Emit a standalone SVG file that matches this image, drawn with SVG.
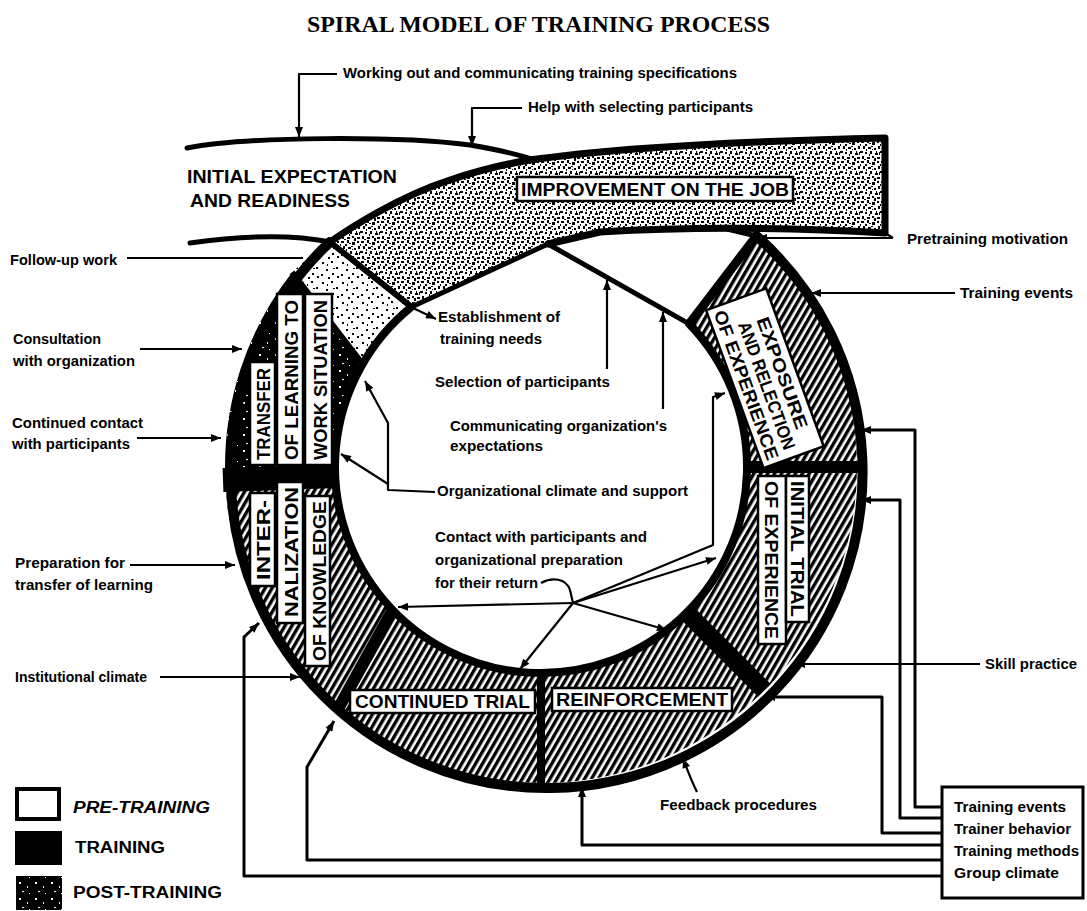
<svg xmlns="http://www.w3.org/2000/svg" width="1087" height="911" viewBox="0 0 1087 911">
<defs>
<style>
text{font-family:"Liberation Sans",Arial,sans-serif;font-weight:bold;fill:#000}
.title{font-family:"Liberation Serif","Times New Roman",serif;font-size:23px}
.note{font-size:14px}
.stage{font-size:18px}
.leg{font-size:16px}
.tag{fill:#fff;stroke:#000;stroke-width:2.5}
.lead{fill:none;stroke:#000;stroke-width:2.2;stroke-linejoin:round}
.feed{fill:none;stroke:#000;stroke-width:3;stroke-linejoin:round}
.rim{fill:none;stroke:#000;stroke-linejoin:round;stroke-linecap:round}
</style>
<!-- diagonal hatching for the training stages -->
<pattern id="hatch" width="6" height="6" patternUnits="userSpaceOnUse" patternTransform="rotate(30)">
  <rect width="6" height="6" fill="#fff"/><rect width="3.4" height="6" fill="#000"/>
</pattern>
<!-- dense stipple for the rising band -->
<pattern id="stipple" width="20" height="20" patternUnits="userSpaceOnUse">
  <rect width="20" height="20" fill="#fff"/>
  <g fill="#000">
    <rect x="1" y="1" width="3" height="2"/><rect x="7" y="0" width="2" height="3"/>
    <rect x="12" y="2" width="3" height="3"/><rect x="17" y="1" width="2" height="2"/>
    <rect x="3" y="6" width="2" height="3"/><rect x="8" y="7" width="3" height="2"/>
    <rect x="14" y="8" width="2" height="2"/><rect x="18" y="6" width="2" height="3"/>
    <rect x="0" y="11" width="3" height="2"/><rect x="5" y="12" width="2" height="2"/>
    <rect x="10" y="11" width="2" height="3"/><rect x="15" y="13" width="3" height="2"/>
    <rect x="2" y="16" width="2" height="3"/><rect x="7" y="17" width="3" height="2"/>
    <rect x="12" y="16" width="2" height="2"/><rect x="17" y="17" width="3" height="2"/>
    <rect x="5" y="4" width="2" height="2"/><rect x="11" y="6" width="2" height="1"/>
    <rect x="16" y="11" width="1" height="2"/><rect x="9" y="14" width="1" height="2"/>
    <rect x="0" y="4" width="1" height="2"/><rect x="14" y="0" width="2" height="1"/>
    <rect x="6" y="9" width="1" height="2"/><rect x="12" y="9" width="1" height="1"/>
    <rect x="19" y="12" width="1" height="3"/><rect x="4" y="19" width="2" height="1"/>
    <rect x="14" y="18" width="2" height="2"/><rect x="9" y="3" width="2" height="1"/>
  </g>
</pattern>
<!-- lighter stipple for the follow-up segment -->
<pattern id="stippleLight" width="20" height="20" patternUnits="userSpaceOnUse">
  <rect width="20" height="20" fill="#fff"/>
  <g fill="#000">
    <rect x="2" y="2" width="2" height="2"/><rect x="11" y="1" width="2" height="2"/>
    <rect x="16" y="7" width="2" height="2"/><rect x="6" y="9" width="2" height="2"/>
    <rect x="1" y="14" width="2" height="2"/><rect x="12" y="13" width="2" height="2"/>
    <rect x="8" y="17" width="2" height="2"/><rect x="17" y="16" width="2" height="2"/>
    <rect x="7" y="4" width="1" height="2"/><rect x="13" y="8" width="2" height="1"/>
  </g>
</pattern>
<!-- black with white specks for the transfer stage -->
<pattern id="speckle" width="16" height="16" patternUnits="userSpaceOnUse">
  <rect width="16" height="16" fill="#000"/>
  <g fill="#fff">
    <rect x="3" y="2" width="2" height="2"/><rect x="11" y="6" width="1" height="2"/>
    <rect x="6" y="11" width="2" height="1"/><rect x="13" y="13" width="1" height="1"/>
  </g>
</pattern>
<marker id="arr" viewBox="0 0 10 8" refX="10" refY="4" markerWidth="11" markerHeight="8" markerUnits="userSpaceOnUse" orient="auto">
  <path d="M0,0 L10,4 L0,8 Z" fill="#000"/>
</marker>
</defs>

<rect width="1087" height="911" fill="#fff"/>

<g id="title">
  <text class="title" x="307" y="32" textLength="463" lengthAdjust="spacingAndGlyphs">SPIRAL MODEL OF TRAINING PROCESS</text>
</g>

<!-- ring body: stage sectors, separators and rims -->
<g id="ring-body">
  <path id="sector-exposure" fill="url(#hatch)" d="M756.5,235.9 A316,316 0 0 1 857,467 L747,467 A206,206 0 0 0 689.2,323.9 Z"/>
  <path id="sector-initial-trial" fill="url(#hatch)" d="M857,467 A316,316 0 0 1 764.4,690.4 L686.7,612.7 A206,206 0 0 0 747,467 Z"/>
  <path id="sector-reinforcement" fill="url(#hatch)" d="M764.4,690.4 A316,316 0 0 1 541,783 L541,673 A206,206 0 0 0 686.7,612.7 Z"/>
  <path id="sector-continued-trial" fill="url(#hatch)" d="M541,783 A316,316 0 0 1 337.9,709.1 L392.8,610.1 A206,206 0 0 0 541,673 Z"/>
  <path id="sector-internalization" fill="url(#hatch)" d="M337.9,709.1 A316,316 0 0 1 225.2,478 L335.1,474.2 A206,206 0 0 0 392.8,610.1 Z"/>
  <path id="sector-transfer" fill="url(#speckle)" d="M225.2,478 A316,316 0 0 1 292,272.4 L362.6,364 A206,206 0 0 0 335.1,474.2 Z"/>
  <path id="sector-follow-up" fill="url(#stippleLight)" d="M292,272.4 A316,316 0 0 1 330,242 L411.4,306.9 A206,206 0 0 0 362.6,364 Z"/>
  <!-- separators -->
  <g stroke="#000" stroke-linecap="butt">
    <path d="M689.2,323.9 L756.5,235.9" stroke-width="9"/>
    <path d="M745,467 L859,467" stroke-width="12"/>
    <path d="M686.7,612.7 L764.4,690.4" stroke-width="18"/>
    <path d="M541,671 L541,785" stroke-width="8"/>
    <path d="M392.8,610.1 L337.9,709.1" stroke-width="12"/>
    <path d="M337,476 L223,480" stroke-width="24"/>
    <path d="M362.6,364 L292,272.4" stroke-width="6"/>
  </g>
  <!-- rims -->
  <path class="rim" stroke-width="10" d="M756.5,235.9 A316,316 0 1 1 330,242"/>
  <path class="rim" stroke-width="8" d="M689.2,323.9 A206,206 0 1 1 411.4,306.9"/>
</g>

<!-- the band rising out of the ring -->
<g id="stage-improvement-on-the-job">
  <path fill="url(#stipple)" d="M330,242 C350,228 400,196 450,180 C480,170 505,164 530,160 C600,150 700,142 885,138 L885,233 C800,228 700,226 600,232 L548,244 L411.4,306.9 Z"/>
  <path class="rim" stroke-width="7" d="M330,242 C350,228 400,196 450,180 C480,170 505,164 530,160 C600,150 700,142 885,138 L885,233 C800,228 700,226 600,232 L548,244"/>
  <path class="rim" stroke-width="6" d="M330,242 L411.4,306.9"/>
  <rect class="tag" x="517" y="177" width="276" height="24"/>
  <text class="stage" x="521" y="196" font-size="19" textLength="268" lengthAdjust="spacingAndGlyphs">IMPROVEMENT ON THE JOB</text>
</g>

<!-- pre-training roof lines inside the ring -->
<g id="pre-training-edge">
  <path class="rim" stroke-width="5" d="M411.4,306.9 L548,244 L689.2,323.9"/>
  <path class="rim" stroke-width="5" d="M727,229 L756.5,236"/>
</g>

<g id="stage-initial-expectation">
  <path class="rim" stroke-width="5" d="M187,148 C250,136 400,136 470,145 C500,150 520,155 535,160"/>
  <path class="rim" stroke-width="5" d="M190,243 C240,236 290,234 330,242"/>
  <text class="stage" x="187" y="183" font-size="19" textLength="210" lengthAdjust="spacingAndGlyphs">INITIAL EXPECTATION</text>
  <text class="stage" x="190" y="207" font-size="19" textLength="160" lengthAdjust="spacingAndGlyphs">AND READINESS</text>
</g>

<g id="stage-exposure" transform="translate(763,379) rotate(70)">
  <rect class="tag" x="-84" y="-34" width="168" height="64"/>
  <text class="stage" font-size="17" x="-58" y="-14" textLength="118" lengthAdjust="spacingAndGlyphs">EXPOSURE</text>
  <text class="stage" font-size="17" x="-60" y="5" textLength="135" lengthAdjust="spacingAndGlyphs">AND RELECTION</text>
  <text class="stage" font-size="17" x="-79" y="24" textLength="158" lengthAdjust="spacingAndGlyphs">OF EXPERIENCE</text>
</g>

<g id="stage-initial-trial">
  <rect class="tag" x="758" y="476" width="28" height="168"/>
  <rect class="tag" x="786" y="476" width="23" height="146"/>
  <text class="stage" transform="translate(791,481) rotate(90)" textLength="136" lengthAdjust="spacingAndGlyphs">INITIAL TRIAL</text>
  <text class="stage" transform="translate(765,481) rotate(90)" textLength="158" lengthAdjust="spacingAndGlyphs">OF EXPERIENCE</text>
</g>

<g id="stage-reinforcement">
  <rect class="tag" x="552" y="688" width="180" height="23"/>
  <text class="stage" x="556" y="706" textLength="172" lengthAdjust="spacingAndGlyphs">REINFORCEMENT</text>
</g>

<g id="stage-continued-trial">
  <rect class="tag" x="350" y="690" width="185" height="23"/>
  <text class="stage" x="355" y="708" textLength="175" lengthAdjust="spacingAndGlyphs">CONTINUED TRIAL</text>
</g>

<g id="stage-internalization">
  <rect class="tag" x="250" y="493" width="25" height="93"/>
  <rect class="tag" x="277" y="482" width="26" height="141"/>
  <rect class="tag" x="305" y="496" width="25" height="170"/>
  <text class="stage" transform="translate(270,580) rotate(-90)" textLength="80" lengthAdjust="spacingAndGlyphs">INTER-</text>
  <text class="stage" transform="translate(298,617) rotate(-90)" textLength="130" lengthAdjust="spacingAndGlyphs">NALIZATION</text>
  <text class="stage" transform="translate(326,661) rotate(-90)" textLength="160" lengthAdjust="spacingAndGlyphs">OF KNOWLEDGE</text>
</g>

<g id="stage-transfer">
  <rect class="tag" x="250" y="362" width="25" height="103"/>
  <rect class="tag" x="277" y="294" width="26" height="171"/>
  <rect class="tag" x="305" y="294" width="27" height="171"/>
  <text class="stage" transform="translate(270,460) rotate(-90)" textLength="92" lengthAdjust="spacingAndGlyphs">TRANSFER</text>
  <text class="stage" transform="translate(298,460) rotate(-90)" textLength="160" lengthAdjust="spacingAndGlyphs">OF LEARNING TO</text>
  <text class="stage" transform="translate(327,460) rotate(-90)" textLength="160" lengthAdjust="spacingAndGlyphs">WORK SITUATION</text>
</g>

<!-- leaders and feedback lines -->
<g id="connectors">
  <path class="lead" d="M337,74 L299,74 L299,137" marker-end="url(#arr)"/>
  <path class="lead" d="M522,108 L472,108 L472,146" marker-end="url(#arr)"/>
  <path class="lead" d="M127,258 L303,258"/>
  <path class="lead" d="M140,349 L242,349" marker-end="url(#arr)"/>
  <path class="lead" d="M137,438 L221,438" marker-end="url(#arr)"/>
  <path class="lead" d="M130,565 L235,565" marker-end="url(#arr)"/>
  <path class="lead" d="M160,677 L300,677" marker-end="url(#arr)"/>
  <path class="lead" d="M893,238 L757,238" marker-end="url(#arr)"/>
  <path class="lead" d="M885,233 L893,238"/>
  <path class="lead" d="M955,293 L811,293" marker-end="url(#arr)"/>
  <path class="lead" d="M980,664 L795,664" marker-end="url(#arr)"/>
  <path class="lead" d="M697,792 C692,782 688,772 683,758" marker-end="url(#arr)"/>
  <path class="lead" d="M411,307 L436,319" marker-end="url(#arr)"/>
  <path class="lead" d="M607,369 L607,280" marker-end="url(#arr)"/>
  <path class="lead" d="M663,409 L663,312" marker-end="url(#arr)"/>
  <path class="lead" d="M435,492 L388,490 L388,423 L365,381" marker-end="url(#arr)"/>
  <path class="lead" d="M388,484 L341,454" marker-end="url(#arr)"/>
  <path class="lead" d="M541,583 C552,577 566,578 570,590 L573,603"/>
  <path class="lead" d="M573,603 L398,607" marker-end="url(#arr)"/>
  <path class="lead" d="M573,603 L520,669" marker-end="url(#arr)"/>
  <path class="lead" d="M573,603 L667,630" marker-end="url(#arr)"/>
  <path class="lead" d="M573,603 L716,558" marker-end="url(#arr)"/>
  <path class="lead" d="M573,603 L713,545 L713,397 L725,393" marker-end="url(#arr)"/>
  <path class="feed" d="M942,807 L915,807 L915,430 L861,430" marker-end="url(#arr)"/>
  <path class="feed" d="M942,818 L900,818 L900,500 L861,500" marker-end="url(#arr)"/>
  <path class="feed" d="M942,833 L882,833 L882,697 L765,697" marker-end="url(#arr)"/>
  <path class="feed" d="M942,845 L582,845 L582,787" marker-end="url(#arr)"/>
  <path class="feed" d="M942,860 L307,860 L307,767 L334,721" marker-end="url(#arr)"/>
  <path class="feed" d="M942,876 L244,876 L244,637 L259,623" marker-end="url(#arr)"/>
</g>

<g id="label-specifications"><text class="note" x="343" y="78" textLength="394" lengthAdjust="spacingAndGlyphs">Working out and communicating training specifications</text></g>
<g id="label-help-selecting"><text class="note" x="528" y="112" textLength="225" lengthAdjust="spacingAndGlyphs">Help with selecting participants</text></g>
<g id="label-pretraining-motivation"><text class="note" x="907" y="244" textLength="161" lengthAdjust="spacingAndGlyphs">Pretraining motivation</text></g>
<g id="label-training-events-top"><text class="note" x="960" y="298" textLength="113" lengthAdjust="spacingAndGlyphs">Training events</text></g>
<g id="label-follow-up"><text class="note" x="10" y="265" textLength="107" lengthAdjust="spacingAndGlyphs">Follow-up work</text></g>
<g id="label-consultation">
  <text class="note" x="13" y="344" textLength="88" lengthAdjust="spacingAndGlyphs">Consultation</text>
  <text class="note" x="13" y="366" textLength="122" lengthAdjust="spacingAndGlyphs">with organization</text>
</g>
<g id="label-continued-contact">
  <text class="note" x="12" y="428" textLength="131" lengthAdjust="spacingAndGlyphs">Continued contact</text>
  <text class="note" x="12" y="449" textLength="118" lengthAdjust="spacingAndGlyphs">with participants</text>
</g>
<g id="label-preparation">
  <text class="note" x="15" y="568" textLength="110" lengthAdjust="spacingAndGlyphs">Preparation for</text>
  <text class="note" x="15" y="590" textLength="138" lengthAdjust="spacingAndGlyphs">transfer of learning</text>
</g>
<g id="label-institutional-climate"><text class="note" x="15" y="682" textLength="132" lengthAdjust="spacingAndGlyphs">Institutional climate</text></g>
<g id="label-skill-practice"><text class="note" x="985" y="669" textLength="92" lengthAdjust="spacingAndGlyphs">Skill practice</text></g>
<g id="label-feedback"><text class="note" x="660" y="810" textLength="157" lengthAdjust="spacingAndGlyphs">Feedback procedures</text></g>
<g id="label-establishment">
  <text class="note" x="438" y="322" textLength="122" lengthAdjust="spacingAndGlyphs">Establishment of</text>
  <text class="note" x="440" y="344" textLength="102" lengthAdjust="spacingAndGlyphs">training needs</text>
</g>
<g id="label-selection"><text class="note" x="435" y="387" textLength="175" lengthAdjust="spacingAndGlyphs">Selection of participants</text></g>
<g id="label-communicating">
  <text class="note" x="450" y="431" textLength="217" lengthAdjust="spacingAndGlyphs">Communicating organization's</text>
  <text class="note" x="450" y="451" textLength="93" lengthAdjust="spacingAndGlyphs">expectations</text>
</g>
<g id="label-org-climate"><text class="note" x="437" y="496" textLength="251" lengthAdjust="spacingAndGlyphs">Organizational climate and support</text></g>
<g id="label-contact">
  <text class="note" x="435" y="542" textLength="212" lengthAdjust="spacingAndGlyphs">Contact with participants and</text>
  <text class="note" x="435" y="565" textLength="188" lengthAdjust="spacingAndGlyphs">organizational preparation</text>
  <text class="note" x="435" y="588" textLength="103" lengthAdjust="spacingAndGlyphs">for their return</text>
</g>

<g id="factor-box">
  <rect x="942" y="787" width="141" height="111" fill="#fff" stroke="#000" stroke-width="3"/>
  <text class="note" x="954" y="812" textLength="112" lengthAdjust="spacingAndGlyphs">Training events</text>
  <text class="note" x="954" y="834" textLength="117" lengthAdjust="spacingAndGlyphs">Trainer behavior</text>
  <text class="note" x="954" y="856" textLength="125" lengthAdjust="spacingAndGlyphs">Training methods</text>
  <text class="note" x="954" y="878" textLength="105" lengthAdjust="spacingAndGlyphs">Group climate</text>
</g>

<g id="legend">
  <rect x="17" y="789" width="42" height="30" fill="#fff" stroke="#000" stroke-width="4"/>
  <rect x="15" y="831" width="47" height="34" fill="#000"/>
  <rect x="16" y="876" width="46" height="34" fill="url(#speckle)"/>
  <text class="leg" x="73" y="813" font-style="italic" textLength="137" lengthAdjust="spacingAndGlyphs">PRE-TRAINING</text>
  <text class="leg" x="75" y="853" textLength="90" lengthAdjust="spacingAndGlyphs">TRAINING</text>
  <text class="leg" x="73" y="898" textLength="149" lengthAdjust="spacingAndGlyphs">POST-TRAINING</text>
</g>
</svg>
